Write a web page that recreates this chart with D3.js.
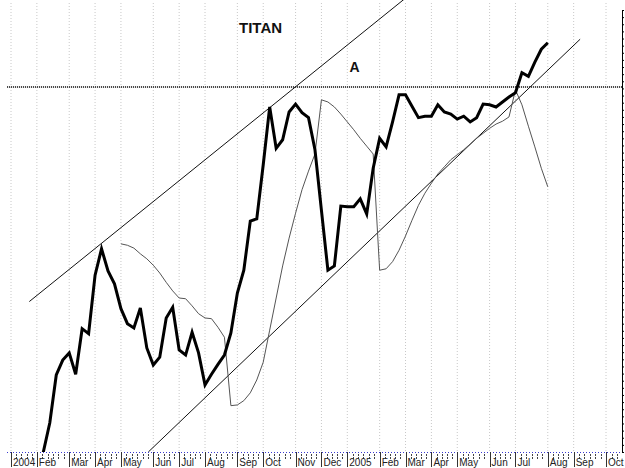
<!DOCTYPE html>
<html><head><meta charset="utf-8">
<script src="https://cdn.jsdelivr.net/npm/d3@7/dist/d3.min.js"></script>
<style>
html,body{margin:0;padding:0;background:#fff;}
svg{display:block;}
</style></head>
<body>
<script>
// ---- data ----
const monthLabels = ["2004","Feb","Mar","Apr","May","Jun","Jul","Aug","Sep","Oct","Nov","Dec","2005","Feb","Mar","Apr","May","Jun","Jul","Aug","Sep","Oct"];
const monthStartWeek = [0,4,9,13,17,22,26,30,35,39,44,48,52,57,61,65,69,74,78,83,87,92];
const priceStartWeek = 4;
const price = [47,100,141,208,229,239,209,273,266,348,385,354,336,301,280,274,302,246,222,233,288,303,243,236,268,239,194,209,223,236,267,323,355,424,427,503,584,526,538,577,588,576,569,524,439,355,361,445,444,444,455,434,498,540,528,563,601,601,585,569,571,571,587,577,574,567,571,563,569,588,587,584,591,598,604,632,627,647,665,674];
const indicatorStartWeek = 17;
const indicator = [392,390,386,378,371,362,351,338,326,316,315,305,294,288,287,275,261,165,166,172,183,201,226,271,316,361,400,435,468,494,518,594,591,584,574,563,552,540,529,518,355,357,367,383,403,425,446,463,477,490,500,510,517,524,532,540,547,554,560,564,570,608,587,557,528,498,472];
const upperChannel = [[2.83,311],[62,744]];
const lowerChannel = [[21.23,100],[88,679]];
const levelA = {value:612, from:-0.6, to:94.5};
const yTicks = d3.range(100, 721, 10);
const titleText = "TITAN";
const labelA = "A";

// ---- chart ----
const W = 625, H = 468;
const svg = d3.select("body").append("svg").attr("width", W).attr("height", H);
const x = d3.scaleLinear().domain([0, 92]).range([11, 606]);
const y = d3.scaleLinear().domain([100, 720]).range([452, 10]);
const plotRight = 622, plotBottom = 452;

svg.append("clipPath").attr("id","clip").append("rect")
  .attr("x",0).attr("y",0).attr("width",plotRight).attr("height",plotBottom);

// vertical month gridlines
svg.append("g").selectAll("line").data(monthStartWeek).join("line")
  .attr("x1", d=>x(d)).attr("x2", d=>x(d)).attr("y1", 3).attr("y2", plotBottom)
  .attr("stroke","#c8c8c8").attr("stroke-width",1).attr("stroke-dasharray","1,2");

// bottom axis: dotted blue baseline
svg.append("line").attr("x1",7).attr("x2",plotRight).attr("y1",plotBottom+0.5).attr("y2",plotBottom+0.5)
  .attr("stroke","#3a3ad0").attr("stroke-width",1).attr("stroke-dasharray","1,2");

// minor ticks between months
const minor = [];
for (let k = 0; k < monthStartWeek.length; k++) {
  const a = monthStartWeek[k];
  const b = k+1 < monthStartWeek.length ? monthStartWeek[k+1] : a + 4.4;
  const pa = x(a), pb = Math.min(x(b), plotRight);
  const n = Math.round((x(b)-pa)/5.3);
  for (let j = 1; j < n; j++) { const p = pa + (x(b)-pa)*j/n; if (p < plotRight-1) minor.push(p); }
}
svg.append("g").selectAll("line").data(minor).join("line")
  .attr("x1", d=>Math.round(d)+0.5).attr("x2", d=>Math.round(d)+0.5).attr("y1", plotBottom+2).attr("y2", plotBottom+7)
  .attr("stroke","#444").attr("stroke-width",1).attr("stroke-dasharray","2,1");

// month bars + labels
svg.append("g").selectAll("line").data(monthStartWeek).join("line")
  .attr("x1", d=>Math.round(x(d))+0.5).attr("x2", d=>Math.round(x(d))+0.5).attr("y1", plotBottom).attr("y2", 467)
  .attr("stroke","#333").attr("stroke-width",1);
svg.append("g").selectAll("text").data(monthLabels).join("text")
  .attr("x", (d,i)=>x(monthStartWeek[i])+2).attr("y", 466)
  .attr("font-family","Liberation Sans, Arial, sans-serif").attr("font-size",10).attr("fill","#222")
  .text(d=>d);

// right axis
const yAxis = d3.axisRight(y).tickValues(yTicks).tickSize(2).tickSizeOuter(2).tickFormat("");
const ga = svg.append("g").attr("transform",`translate(${plotRight},0)`).call(yAxis);
ga.selectAll("path,line").attr("stroke","#000");

const plot = svg.append("g").attr("clip-path","url(#clip)");

// horizontal level line A
plot.append("line").attr("x1", x(levelA.from)).attr("x2", x(levelA.to))
  .attr("y1", y(levelA.value)).attr("y2", y(levelA.value))
  .attr("stroke","#333").attr("stroke-width",2).attr("stroke-dasharray","1,1");

// channel lines
const seg = d3.line().x(d=>x(d[0])).y(d=>y(d[1]));
[upperChannel, lowerChannel].forEach(c=>{
  plot.append("path").attr("d", seg(c)).attr("fill","none").attr("stroke","#111").attr("stroke-width",1);
});

// indicator thin line
const line = d3.line().x(d=>x(d.w)).y(d=>y(d.v));
plot.append("path").attr("d", line(indicator.map((v,i)=>({w:indicatorStartWeek+i, v}))))
  .attr("fill","none").attr("stroke","#555").attr("stroke-width",1);

// price thick line
plot.append("path").attr("d", line(price.map((v,i)=>({w:priceStartWeek+i, v}))))
  .attr("fill","none").attr("stroke","#000").attr("stroke-width",3).attr("stroke-linejoin","miter");

// texts
svg.append("text").attr("x",239).attr("y",33).attr("font-family","Liberation Sans, Arial, sans-serif")
  .attr("font-weight","bold").attr("font-size",15).attr("fill","#111").text(titleText);
svg.append("text").attr("x",349.5).attr("y",72).attr("font-family","Liberation Sans, Arial, sans-serif")
  .attr("font-weight","bold").attr("font-size",14).attr("fill","#111").text(labelA);
</script>
</body></html>
